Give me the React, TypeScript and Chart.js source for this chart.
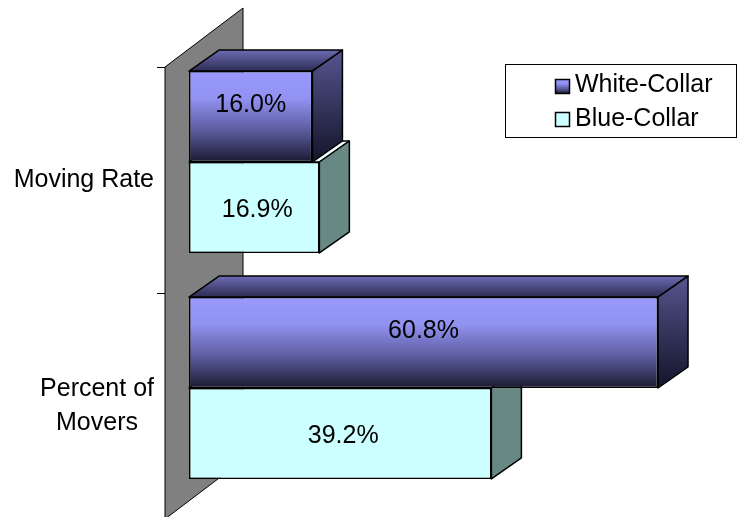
import React, { useEffect, useRef } from 'react';
import { Chart, registerables } from 'chart.js';

Chart.register(...registerables);

// ---------- data ----------
const categories: (string | string[])[] = ['Moving Rate', ['Percent of', 'Movers']];
const seriesNames = ['White-Collar', 'Blue-Collar'];
const whiteCollar = [16.0, 60.8];
const blueCollar = [16.9, 39.2];
const valueMin = 0;
const valueMax = 70;

// ---------- style / geometry ----------
const FONT = '"Liberation Sans", Arial, Helvetica, sans-serif';
const FONT_SIZE = 25;
const CAT_PCT = 0.805;
const BAR_OFF = { x: 24, y: -18 }; // bar front plane relative to wall front plane
const BAR_DEPTH = { x: 30, y: -21 };
const WALL_DEPTH = { x: 78, y: -59 };
const LABEL_LINE_H = 33.5;
const BLUE_FRONT = '#CCFFFF';
const BLUE_SIDE = '#688884';
const BLUE_TOP = '#F0FFFF';

function whiteFrontGrad(ctx: CanvasRenderingContext2D, top: number, bottom: number) {
  const g = ctx.createLinearGradient(0, top, 0, bottom);
  g.addColorStop(0, '#9999FF');
  g.addColorStop(0.3, '#9292F2');
  g.addColorStop(0.65, '#5C5CA0');
  g.addColorStop(1, '#1A1A30');
  return g;
}

function poly(ctx: CanvasRenderingContext2D, pts: number[][], fill: any) {
  ctx.beginPath();
  ctx.moveTo(pts[0][0], pts[0][1]);
  for (let i = 1; i < pts.length; i++) ctx.lineTo(pts[i][0], pts[i][1]);
  ctx.closePath();
  ctx.fillStyle = fill;
  ctx.fill();
  ctx.stroke();
}

const bar3d = {
  id: 'bar3d',
  beforeDatasetsDraw(chart: any) {
    const { ctx } = chart;
    const xs = chart.scales.x;
    const ys = chart.scales.y;
    const x0 = xs.getPixelForValue(0);
    const wx = x0 - BAR_OFF.x;
    const wTop = ys.getPixelForValue(-0.5) - BAR_OFF.y;
    const wBot = ys.getPixelForValue(categories.length - 0.5) - BAR_OFF.y;
    ctx.save();
    ctx.strokeStyle = '#000';
    ctx.lineWidth = 1;
    ctx.lineJoin = 'miter';
    poly(ctx, [
      [wx, wTop],
      [wx + WALL_DEPTH.x, wTop + WALL_DEPTH.y],
      [wx + WALL_DEPTH.x, wBot + WALL_DEPTH.y],
      [wx, wBot],
    ], '#808080');
    // category tick marks on the wall front edge
    ctx.beginPath();
    for (let i = 0; i <= categories.length; i++) {
      const y = Math.round(ys.getPixelForValue(i - 0.5) - BAR_OFF.y) + 0.5;
      ctx.moveTo(wx - 8, y);
      ctx.lineTo(wx, y);
    }
    ctx.stroke();
    // category labels (right-aligned block, lines centred)
    ctx.font = `${FONT_SIZE}px ${FONT}`;
    ctx.fillStyle = '#000';
    ctx.textAlign = 'center';
    ctx.textBaseline = 'middle';
    const labelRight = wx - 11;
    categories.forEach((lab, i) => {
      const lines = Array.isArray(lab) ? lab : [lab];
      const w = Math.max(...lines.map((l) => ctx.measureText(l).width));
      const cx = labelRight - w / 2;
      const cy = ys.getPixelForValue(i) - BAR_OFF.y;
      lines.forEach((l, j) => {
        ctx.fillText(l, cx, cy + (j - (lines.length - 1) / 2) * LABEL_LINE_H);
      });
    });
    ctx.restore();
  },
  afterDatasetDraw(chart: any, args: any) {
    const { ctx } = chart;
    const meta = args.meta;
    const isWhite = args.index === 0;
    ctx.save();
    ctx.strokeStyle = '#000';
    ctx.lineWidth = 1.5;
    ctx.lineJoin = 'round';
    meta.data.forEach((el: any) => {
      const p = el.getProps(['x', 'y', 'base', 'height'], true);
      const left = Math.min(p.base, p.x);
      const right = Math.max(p.base, p.x);
      const top = p.y - p.height / 2;
      const bottom = p.y + p.height / 2;
      const dx = BAR_DEPTH.x;
      const dy = BAR_DEPTH.y;
      let topFill: any = BLUE_TOP;
      let sideFill: any = BLUE_SIDE;
      if (isWhite) {
        const gt = ctx.createLinearGradient(0, top + dy, 0, top);
        gt.addColorStop(0, '#6C6CB4');
        gt.addColorStop(1, '#2C2C54');
        topFill = gt;
        const gs = ctx.createLinearGradient(0, top + dy, 0, bottom);
        gs.addColorStop(0, '#55558F');
        gs.addColorStop(1, '#14142A');
        sideFill = gs;
      }
      poly(ctx, [[left, top], [right, top], [right + dx, top + dy], [left + dx, top + dy]], topFill);
      poly(ctx, [[right, top], [right + dx, top + dy], [right + dx, bottom + dy], [right, bottom]], sideFill);
    });
    ctx.restore();
  },
  afterDatasetsDraw(chart: any) {
    const { ctx } = chart;
    ctx.save();
    ctx.font = `${FONT_SIZE}px ${FONT}`;
    ctx.fillStyle = '#000';
    ctx.textAlign = 'center';
    ctx.textBaseline = 'middle';
    chart.data.datasets.forEach((ds: any, di: number) => {
      const meta = chart.getDatasetMeta(di);
      const off = di === 0 ? { x: 0, y: -11 } : { x: 3, y: 3 };
      meta.data.forEach((el: any, i: number) => {
        const p = el.getProps(['x', 'y', 'base'], true);
        const txt = Number(ds.data[i]).toFixed(1) + '%';
        ctx.fillText(txt, (p.x + p.base) / 2 + off.x, p.y + off.y);
      });
    });
    ctx.restore();
  },
  afterDraw(chart: any) {
    const { ctx } = chart;
    ctx.save();
    // legend box
    ctx.strokeStyle = '#000';
    ctx.lineWidth = 1;
    ctx.fillStyle = '#fff';
    ctx.fillRect(505.5, 64.5, 231, 73);
    ctx.strokeRect(505.5, 64.5, 231, 73);
    ctx.font = `${FONT_SIZE}px ${FONT}`;
    ctx.textAlign = 'left';
    ctx.textBaseline = 'alphabetic';
    const rows = [
      { y: 79.5, base: 92 },
      { y: 112.5, base: 126 },
    ];
    chart.data.datasets.forEach((ds: any, di: number) => {
      const r = rows[di];
      const sx = 555.5;
      const s = 14;
      ctx.fillStyle = di === 0 ? whiteFrontGrad(ctx, r.y, r.y + s) : BLUE_FRONT;
      ctx.fillRect(sx, r.y, s, s);
      ctx.strokeStyle = '#000';
      ctx.lineWidth = 1.5;
      ctx.strokeRect(sx, r.y, s, s);
      ctx.fillStyle = '#000';
      ctx.fillText(ds.label, 575, r.base);
    });
    ctx.restore();
  },
};

export default function App() {
  const ref = useRef<HTMLCanvasElement>(null);
  useEffect(() => {
    const canvas = ref.current!;
    const chart = new Chart(canvas, {
      type: 'bar',
      data: {
        labels: categories as any,
        datasets: [
          {
            label: seriesNames[0],
            data: whiteCollar,
            backgroundColor: (c: any) => {
              const ch = c.chart;
              const ys = ch.scales && ch.scales.y;
              if (!ys || c.dataIndex == null || !ch.chartArea) return '#9999FF';
              const band = ys.getPixelForValue(0.5) - ys.getPixelForValue(-0.5);
              const center = ys.getPixelForValue(c.dataIndex);
              const h = (band * CAT_PCT) / 2;
              return whiteFrontGrad(ch.ctx, center - h, center);
            },
            borderColor: '#000',
            borderWidth: 1.5,
            borderSkipped: false,
            barPercentage: 1,
            categoryPercentage: CAT_PCT,
          },
          {
            label: seriesNames[1],
            data: blueCollar,
            backgroundColor: BLUE_FRONT,
            borderColor: '#000',
            borderWidth: 1.5,
            borderSkipped: false,
            barPercentage: 1,
            categoryPercentage: CAT_PCT,
          },
        ],
      },
      options: {
        indexAxis: 'y',
        responsive: false,
        animation: false,
        events: [],
        layout: { padding: { left: 189, right: 20, top: 49, bottom: 16 } },
        scales: {
          x: { display: false, min: valueMin, max: valueMax },
          y: { display: false },
        },
        plugins: {
          legend: { display: false },
          tooltip: { enabled: false },
        },
      },
      plugins: [bar3d],
    } as any);
    return () => chart.destroy();
  }, []);
  return (
    <div style={{ position: 'absolute', left: 0, top: 0, width: 749, height: 517, background: '#fff' }}>
      <canvas ref={ref} width={749} height={517} style={{ display: 'block', width: 749, height: 517 }} />
    </div>
  );
}
